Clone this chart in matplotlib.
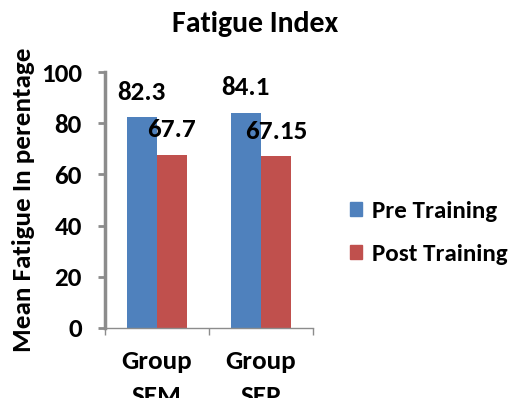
import matplotlib
matplotlib.use("Agg")
import matplotlib.pyplot as plt
from matplotlib.patches import Patch
import numpy as np

plt.rcParams['font.family'] = 'Carlito'
plt.rcParams['font.weight'] = 'bold'

categories = ["Group\nSEM", "Group\nSEP"]
series_names = ["Pre Training", "Post Training"]
pre_training = [82.3, 84.1]
post_training = [67.7, 67.15]
pre_labels = ["82.3", "84.1"]
post_labels = ["67.7", "67.15"]
y_ticks = [0, 20, 40, 60, 80, 100]

colors = ["#4F81BD", "#C0504D"]
axis_gray = "#8C8C8C"
fs = 19.5

fig = plt.figure(figsize=(5.09, 3.98), dpi=100)
ax = fig.add_axes([0.206, 0.176, 0.409, 0.643])

x = np.arange(len(categories))
w = 0.29
b1 = ax.bar(x - w / 2, pre_training, w, color=colors[0], label=series_names[0])
b2 = ax.bar(x + w / 2, post_training, w, color=colors[1], label=series_names[1])

for bars, labels in ((b1, pre_labels), (b2, post_labels)):
    for rect, lab in zip(bars, labels):
        ax.annotate(lab, (rect.get_x() + rect.get_width() / 2, rect.get_height()),
                    xytext=(0, 18), textcoords="offset points",
                    ha="center", va="center", fontsize=fs, fontweight="bold")

ax.set_xlim(-0.5, 1.5)
ax.set_ylim(0, 100)
ax.set_yticks(y_ticks)
ax.set_yticklabels([str(t) for t in y_ticks], fontsize=fs, fontweight="bold")
ax.set_xticks(x)
ax.set_xticklabels(categories, fontsize=fs, fontweight="bold", linespacing=1.6)
ax.tick_params(axis="x", length=0, pad=16)
ax.set_xticks([-0.5, 0.5, 1.5], minor=True)
ax.tick_params(axis="x", which="minor", length=5, width=1, color=axis_gray, direction="out")
ax.tick_params(axis="y", length=5, width=2, color=axis_gray, direction="out", pad=11.5)

for side in ("top", "right"):
    ax.spines[side].set_visible(False)
ax.spines["left"].set_color(axis_gray)
ax.spines["left"].set_linewidth(2.5)
ax.spines["bottom"].set_color(axis_gray)
ax.spines["bottom"].set_linewidth(1)

ax.set_ylabel("Mean Fatigue In perentage", fontsize=fs, fontweight="bold", labelpad=4)
fig.text(0.501, 0.94, "Fatigue Index", ha="center", va="center",
         fontsize=21.5, fontweight="bold")

handles = [Patch(color=c) for c in colors]
fig.legend(handles, series_names, loc="center left", bbox_to_anchor=(0.688, 0.415),
           frameon=False, handlelength=0.48, handleheight=0.48,
           handletextpad=0.4, labelspacing=0.86, borderpad=0, borderaxespad=0,
           prop={"weight": "bold", "size": 18})

fig.savefig("out.png", dpi=100)
